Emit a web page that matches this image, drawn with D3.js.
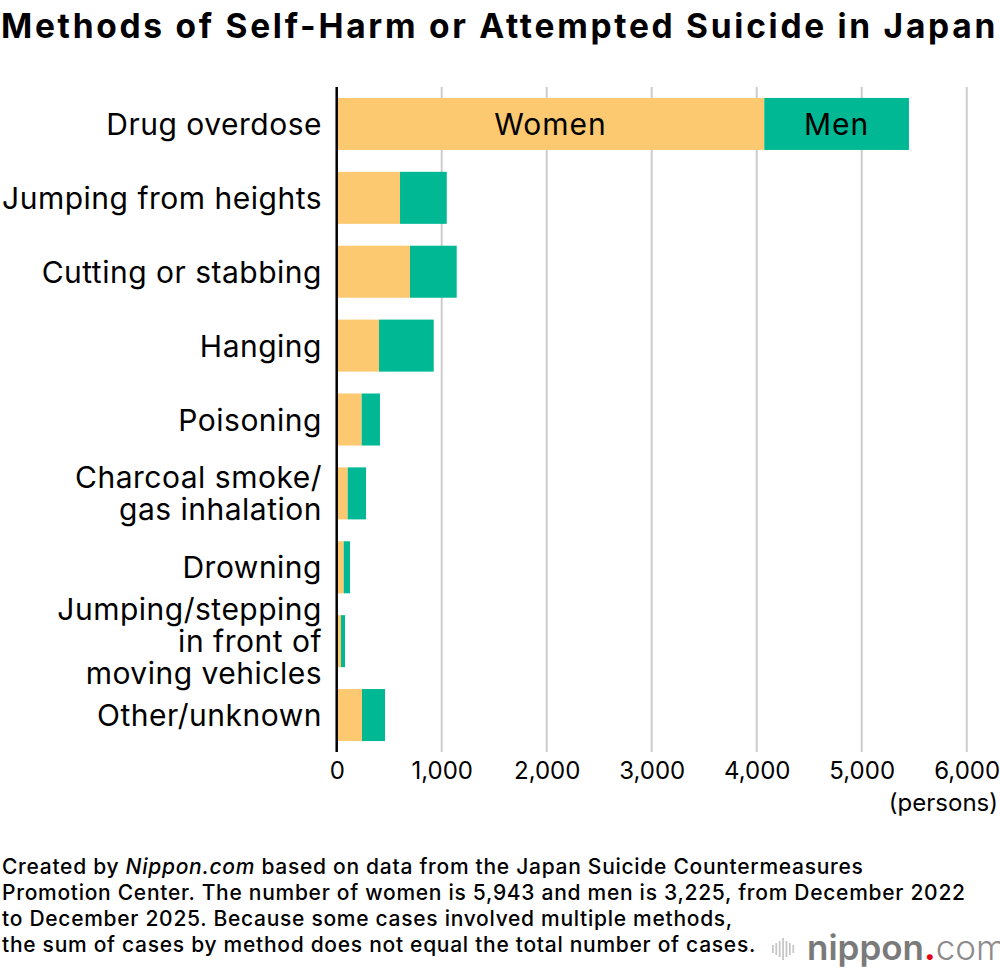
<!DOCTYPE html>
<html>
<head>
<meta charset="utf-8">
<script src="https://cdn.jsdelivr.net/npm/d3@7"></script>
<style>
  body { margin: 0; background: #fff; }
  text { font-family: Inter, "Liberation Sans", Arial, sans-serif; fill: #000; }
</style>
</head>
<body>
<div id="chart"></div>
<script>
// ---------------------------------------------------
// DATA (persons)
// ---------------------------------------------------
const methods = [
  "Drug overdose",
  "Jumping from heights",
  "Cutting or stabbing",
  "Hanging",
  "Poisoning",
  "Charcoal smoke/\ngas inhalation",
  "Drowning",
  "Jumping/stepping\nin front of\nmoving vehicles",
  "Other/unknown"
];
const women = [4072, 603, 698, 403, 238, 105, 67, 41, 241];
const men   = [1378, 445, 445, 521, 174, 174, 60, 38, 219];
const seriesNames = ["Women", "Men"];
const xTicks = [0, 1000, 2000, 3000, 4000, 5000, 6000];
const footnote = [
  ["Created by ", ["Nippon.com", true], " based on data from the Japan Suicide Countermeasures"],
  ["Promotion Center. The number of women is 5,943 and men is 3,225, from December 2022"],
  ["to December 2025. Because some cases involved multiple methods,"],
  ["the sum of cases by method does not equal the total number of cases."]
];

// stretch a text to a target width with letter-spacing
const fitWidth = (sel, target) => {
  const w = sel.node().getComputedTextLength();
  const n = sel.text().length;
  const ls = (target - w) / n;
  sel.attr("letter-spacing", ls);
  return ls;
};

// ---------------------------------------------------
// SVG
// ---------------------------------------------------
const width = 1000, height = 974;
const svg = d3.select("#chart").append("svg")
  .attr("width", width)
  .attr("height", height);

// title
const title = svg.append("text")
  .attr("x", 1)
  .attr("y", 38)
  .attr("font-size", 33.5)
  .attr("font-weight", "bold")
  .text("Methods of Self-Harm or Attempted Suicide in Japan");
fitWidth(title, 997);

// ---------------------------------------------------
// SCALES
// ---------------------------------------------------
const x = d3.scaleLinear().domain([0, 6000]).range([336.7, 966.7]);
const y = d3.scaleBand().domain(methods).range([87, 752])
  .paddingInner(0.296).paddingOuter(0.148);
const color = d3.scaleOrdinal().domain(seriesNames).range(["#fcc970", "#00b894"]);

const rows = methods.map((m, i) => ({ method: m, Women: women[i], Men: men[i] }));
const stacked = d3.stack().keys(seriesNames)(rows);

// gridlines
svg.append("g")
  .selectAll("line")
  .data(xTicks.slice(1))
  .join("line")
  .attr("x1", d => x(d)).attr("x2", d => x(d))
  .attr("y1", 87).attr("y2", 752)
  .attr("stroke", "#cccccc")
  .attr("stroke-width", 2);

// bars
svg.append("g")
  .selectAll("g")
  .data(stacked)
  .join("g")
  .attr("fill", d => color(d.key))
  .selectAll("rect")
  .data(d => d)
  .join("rect")
  .attr("x", d => x(d[0]))
  .attr("y", d => y(d.data.method))
  .attr("width", d => x(d[1]) - x(d[0]))
  .attr("height", y.bandwidth());

// series labels inside the first bar
svg.append("g")
  .selectAll("text")
  .data(stacked)
  .join("text")
  .attr("x", d => (x(d[0][0]) + x(d[0][1])) / 2)
  .attr("y", y(methods[0]) + y.bandwidth() / 2)
  .attr("dy", "0.36em")
  .attr("text-anchor", "middle")
  .attr("font-size", 30)
  .attr("letter-spacing", 1)
  .text(d => d.key);

// axis line at zero
svg.append("line")
  .attr("x1", x(0)).attr("x2", x(0))
  .attr("y1", 87).attr("y2", 752)
  .attr("stroke", "#000")
  .attr("stroke-width", 2.5);

// x axis tick labels
const xAxis = svg.append("g")
  .attr("transform", "translate(0,752)")
  .call(d3.axisBottom(x).tickValues(xTicks).tickFormat(d3.format(",")).tickSize(0).tickPadding(10));
xAxis.select(".domain").remove();
xAxis.selectAll("text")
  .attr("font-size", 24)
  .attr("font-family", "Inter, 'Liberation Sans', Arial, sans-serif")
  .attr("fill", "#000");

svg.append("text")
  .attr("x", 998)
  .attr("y", 811)
  .attr("text-anchor", "end")
  .attr("font-size", 24)
  .text("(persons)");

// category labels (multi-line)
const cat = svg.append("g")
  .selectAll("text")
  .data(methods)
  .join("text")
  .attr("text-anchor", "end")
  .attr("font-size", 30)
  .attr("letter-spacing", 0.5)
  .attr("x", 322)
  .attr("y", d => y(d) + y.bandwidth() / 2);

cat.each(function (d) {
  const lines = d.split("\n");
  const lh = 32;
  const t = d3.select(this);
  lines.forEach((ln, j) => {
    t.append("tspan")
      .attr("x", 322)
      .attr("dy", j === 0 ? (-(lines.length - 1) * lh / 2 + 11) : lh)
      .text(ln);
  });
});

// footnote
const foot = svg.append("g");
const footLines = footnote.map((parts, i) => {
  const t = foot.append("text")
    .attr("x", 2)
    .attr("y", 874 + i * 26)
    .attr("font-size", 21)
    .attr("font-weight", 500);
  parts.forEach(p => {
    if (Array.isArray(p)) {
      t.append("tspan").attr("font-style", "italic").text(p[0]);
    } else {
      t.append("tspan").text(p);
    }
  });
  return t;
});
const footLs = fitWidth(footLines[3], 754);
footLines.forEach(t => t.attr("letter-spacing", footLs));

// nippon.com logo
const logo = svg.append("g").attr("transform", "translate(772,960)");
const waveBars = [8, 12, 16, 22, 16, 12, 8];
logo.selectAll("rect")
  .data(waveBars)
  .join("rect")
  .attr("x", (d, i) => i * 3.4)
  .attr("y", d => -11 - d / 2)
  .attr("width", 1.7)
  .attr("height", d => d)
  .attr("fill", "#c4c4c4");
const lt = logo.append("text")
  .attr("x", 35)
  .attr("y", 0)
  .attr("font-size", 35);
lt.append("tspan").attr("fill", "#7a7a7a").attr("font-weight", 600).text("nippon");
lt.append("tspan").attr("fill", "#e60012").attr("font-weight", 700).text(".");
lt.append("tspan").attr("fill", "#8c8c8c").attr("font-weight", 300).text("com");
</script>
</body>
</html>
